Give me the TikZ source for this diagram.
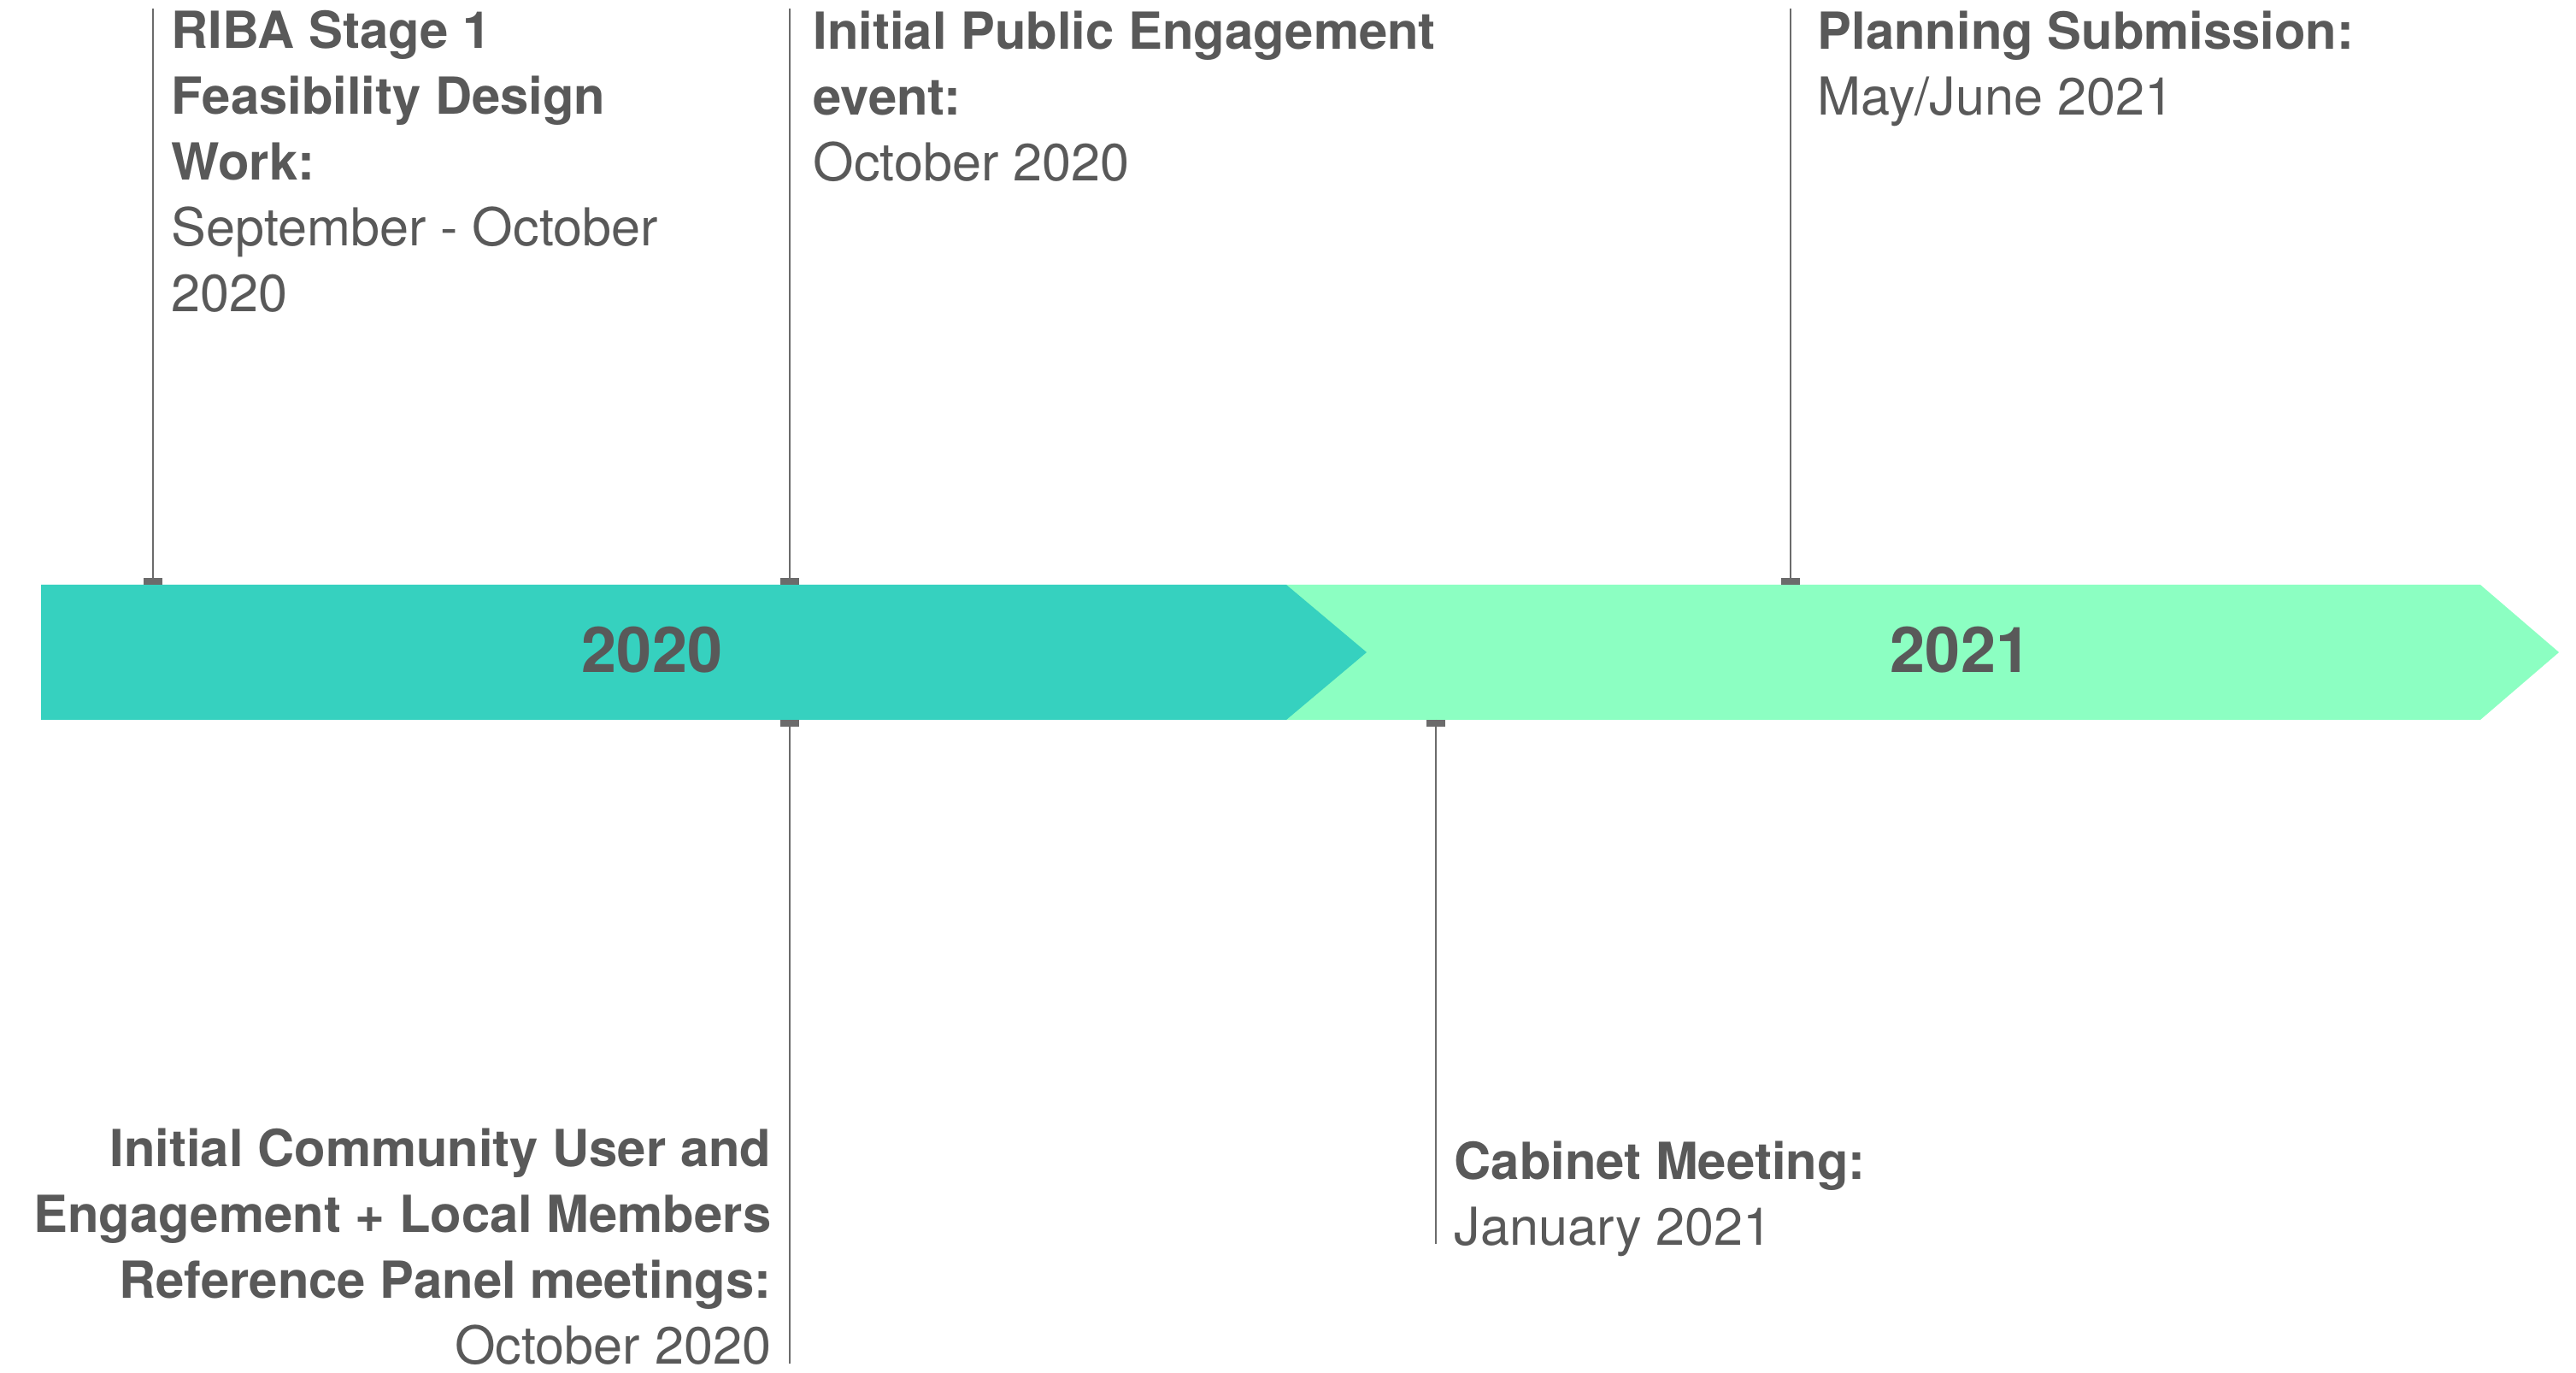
\documentclass[tikz,border=0pt]{standalone}
\usepackage{fontspec}
\setmainfont{TeX Gyre Heros}

\definecolor{yearteal}{HTML}{36D1BF}
\definecolor{yearmint}{HTML}{8CFFC2}
\definecolor{labelgray}{HTML}{595959}
\definecolor{stemgray}{HTML}{6B6B6B}

\newcommand{\evdate}[1]{{\fontsize{17.4}{21.9}\selectfont #1}}

\begin{document}
\begin{tikzpicture}[x=1cm, y=-1cm,
    stem/.style={draw=stemgray, line width=0.75pt},
    stemcap/.style={fill=stemgray},
    event/.style={text=labelgray, inner sep=0pt, font=\fontsize{17}{21.9}\selectfont},
    year/.style={text=labelgray, font=\fontsize{21}{25}\selectfont\bfseries}]
\fill[white] (0,0) rectangle (30.14,16.06);
\useasboundingbox (0,0) rectangle (30.14,16.06);

% 2021 band first, so the 2020 point sits on top of it
\fill[yearmint] (15.05,6.84) -- (29.02,6.84) -- (29.94,7.63) -- (29.02,8.42) -- (15.05,8.42) -- cycle;
% 2020 band
\fill[yearteal] (0.48,6.84) -- (15.05,6.84) -- (15.99,7.63) -- (15.05,8.42) -- (0.48,8.42) -- cycle;
\node[year] (y2020) at (7.63,7.60) {2020};
\node[year] (y2021) at (22.94,7.60) {2021};

% Milestone stems above the band
\foreach \name/\x in {riba/1.79, publicevt/9.24, planning/20.95} {
    \coordinate (\name-foot) at (\x,6.84);
    \coordinate (\name-end) at (\x,0.10);
    \fill[stemcap] ([xshift=-0.11cm]\name-foot) rectangle ([xshift=0.11cm,yshift=0.08cm]\name-foot);
    \draw[stem] (\name-foot) -- (\name-end);
}

% Milestone stems below the band
\foreach \name/\x/\y in {community/9.24/15.95, cabinet/16.80/14.55} {
    \coordinate (\name-foot) at (\x,8.42);
    \coordinate (\name-end) at (\x,\y);
    \fill[stemcap] ([xshift=-0.11cm]\name-foot) rectangle ([xshift=0.11cm,yshift=-0.08cm]\name-foot);
    \draw[stem] (\name-foot) -- (\name-end);
}

% Event texts
\node[event, anchor=north west, align=left] (riba) at (2.00,0.12) {
    \textbf{RIBA Stage 1}\\
    \textbf{Feasibility Design}\\
    \textbf{Work:}\\
    \evdate{September - October}\\
    \evdate{2020}
};
\node[event, anchor=north west, align=left] (publicevt) at (9.51,0.12) {
    \textbf{Initial Public Engagement}\\
    \textbf{event:}\\
    \evdate{October 2020}
};
\node[event, anchor=north west, align=left] (planning) at (21.26,0.12) {
    \textbf{Planning Submission:}\\
    \evdate{May/June 2021}
};
\node[event, anchor=north east, align=right] (community) at (9.03,13.19) {
    \textbf{Initial Community User and}\\
    \textbf{Engagement + Local Members}\\
    \textbf{Reference Panel meetings:}\\
    \evdate{October 2020}
};
\node[event, anchor=north west, align=left] (cabinet) at (17.01,13.34) {
    \textbf{Cabinet Meeting:}\\
    \evdate{January 2021}
};

\end{tikzpicture}
\end{document}
